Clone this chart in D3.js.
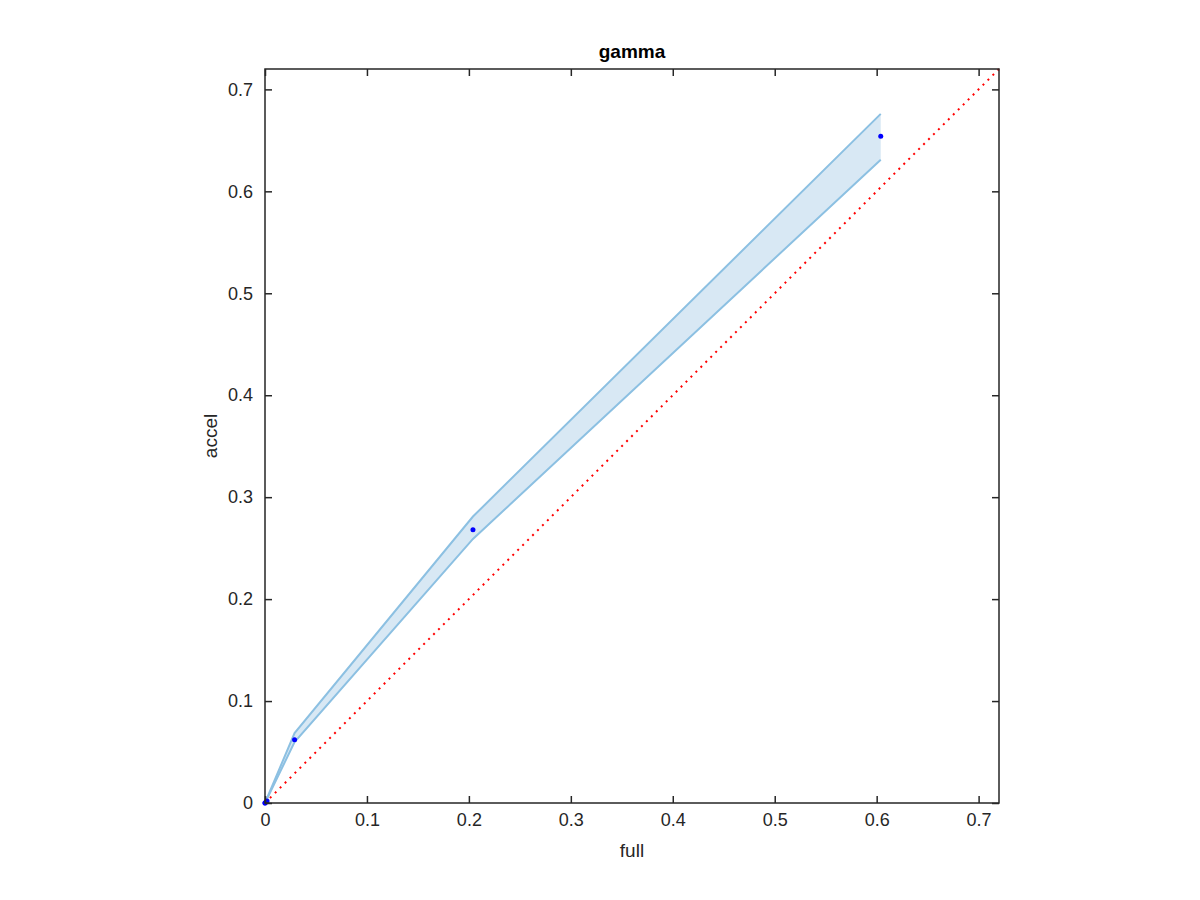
<!DOCTYPE html>
<html><head><meta charset="utf-8">
<script src="https://cdn.jsdelivr.net/npm/d3@7"></script>
<style>body{margin:0;background:#fff;} text{font-family:"Liberation Sans",Arial,Helvetica,sans-serif;}</style>
</head><body>
<svg id="chart" width="1200" height="900"></svg>
<script>
const xs = [0, 0.029, 0.204, 0.604];
const mids = [0, 0.062, 0.268, 0.654];
const upper = [0, 0.0686, 0.281, 0.676];
const lower = [0, 0.0598, 0.259, 0.631];
const nearZeroX = [0, 0.001, 0.002];
const nearZeroY = [0, 0.001, 0.002];
const ticks = [0, 0.1, 0.2, 0.3, 0.4, 0.5, 0.6, 0.7];
const title = "gamma", xLabel = "full", yLabel = "accel";

const svg = d3.select("#chart");
const L = 265, R = 999, T = 69, B = 803;
const x = d3.scaleLinear().domain([0, 0.72]).range([L, R]);
const y = d3.scaleLinear().domain([0, 0.72]).range([B, T]);

const band = xs.map((v, i) => ({x: v, lo: lower[i], hi: upper[i]}));
svg.append("path").datum(band)
  .attr("d", d3.area().x(d => x(d.x)).y0(d => y(d.lo)).y1(d => y(d.hi)))
  .attr("fill", "#d8e8f4").attr("stroke", "none");
const ln = d3.line().x(d => x(d[0])).y(d => y(d[1]));
svg.append("path").datum(xs.map((v, i) => [v, upper[i]])).attr("d", ln)
  .attr("fill", "none").attr("stroke", "#8cc0e2").attr("stroke-width", 2);
svg.append("path").datum(xs.map((v, i) => [v, lower[i]])).attr("d", ln)
  .attr("fill", "none").attr("stroke", "#8cc0e2").attr("stroke-width", 2);

// diagonal
svg.append("path").datum([[0, 0], [0.72, 0.72]]).attr("d", ln)
  .attr("fill", "none").attr("stroke", "#ff0000").attr("stroke-width", 2)
  .attr("stroke-dasharray", "2,5");

// points
svg.selectAll("circle.m").data(xs.map((v, i) => [v, mids[i]])).enter().append("circle")
  .attr("cx", d => x(d[0])).attr("cy", d => y(d[1])).attr("r", 2.5).attr("fill", "#0000ff");
svg.selectAll("circle.z").data(nearZeroX.map((v, i) => [v, nearZeroY[i]])).enter().append("circle")
  .attr("cx", d => x(d[0])).attr("cy", d => y(d[1])).attr("r", 2.5).attr("fill", "#0000ff");

// axes
const ax = svg.append("g").attr("stroke", "#262626");
const tl = 7;
ax.append("rect").attr("x", L).attr("y", T).attr("width", R - L).attr("height", B - T)
  .attr("fill", "none").attr("stroke-width", 1.5);
const gx = svg.append("g").attr("transform", `translate(0,${B})`)
  .call(d3.axisBottom(x).tickValues(ticks).tickFormat(d3.format("~g")).tickSizeInner(-tl).tickSizeOuter(0).tickPadding(10));
const gxt = svg.append("g").attr("transform", `translate(0,${T})`)
  .call(d3.axisTop(x).tickValues(ticks).tickFormat("").tickSizeInner(-tl).tickSizeOuter(0));
const gy = svg.append("g").attr("transform", `translate(${L},0)`)
  .call(d3.axisLeft(y).tickValues(ticks).tickFormat(d3.format("~g")).tickSizeInner(-tl).tickSizeOuter(0).tickPadding(12));
const gyr = svg.append("g").attr("transform", `translate(${R},0)`)
  .call(d3.axisRight(y).tickValues(ticks).tickFormat("").tickSizeInner(-tl).tickSizeOuter(0));
[gx, gxt, gy, gyr].forEach(g => {
  g.select(".domain").remove();
  g.selectAll("line").attr("stroke", "#262626").attr("stroke-width", 1.5);
  g.selectAll("text").attr("fill", "#262626").attr("font-size", 18)
   .style("font-family", "Liberation Sans, Arial, sans-serif");
});

svg.append("text").attr("x", (L + R) / 2).attr("y", 58).attr("text-anchor", "middle")
  .attr("font-size", 19).attr("font-weight", "bold").attr("fill", "#000").text(title);
svg.append("text").attr("x", (L + R) / 2).attr("y", 857).attr("text-anchor", "middle")
  .attr("font-size", 19).attr("fill", "#262626").text(xLabel);
svg.append("text").attr("transform", `translate(217,${(T + B) / 2}) rotate(-90)`).attr("text-anchor", "middle")
  .attr("font-size", 19).attr("fill", "#262626").text(yLabel);
</script>
</body></html>
